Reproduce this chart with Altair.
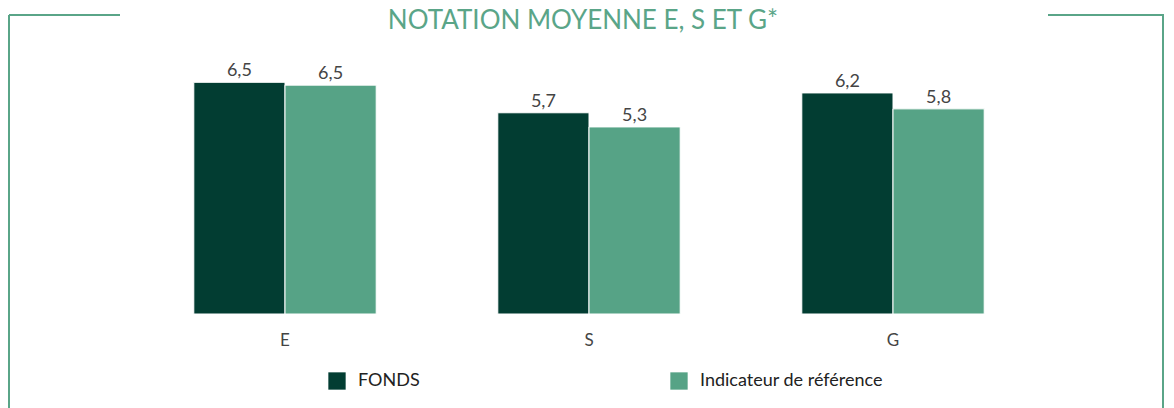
import altair as alt
import pandas as pd

categories = ["E", "S", "G"]
series = ["FONDS", "Indicateur de référence"]
fonds = [6.54, 5.68, 6.24]
reference = [6.46, 5.28, 5.79]

rows = []
for c, f, r in zip(categories, fonds, reference):
    rows.append({"pilier": c, "serie": series[0], "note": f})
    rows.append({"pilier": c, "serie": series[1], "note": r})
df = pd.DataFrame(rows)
df["label"] = df["note"].map(lambda v: f"{v:.1f}".replace(".", ","))

DARK = "#023d32"
LIGHT = "#56a386"
FRAME = "#5aa588"
FONT = "Lato"

W, H = 912, 248

x = alt.X("pilier:N", sort=categories,
          scale=alt.Scale(paddingInner=0.4, paddingOuter=0.2),
          axis=alt.Axis(title=None, labelAngle=0, domain=False, ticks=False,
                        labelFontSize=17, labelColor="#444", labelFont=FONT,
                        labelPadding=18))
y = alt.Y("note:Q", scale=alt.Scale(domain=[0, 7], nice=False), axis=None)
xo = alt.XOffset("serie:N", sort=series)

base = alt.Chart(df)
bars = base.mark_bar(stroke="white", strokeWidth=1).encode(
    x=x, y=y, xOffset=xo,
    color=alt.Color("serie:N", sort=series,
                    scale=alt.Scale(domain=series, range=[DARK, LIGHT]),
                    legend=alt.Legend(title=None, orient="none", direction="horizontal",
                                      legendX=195, legendY=306, columnPadding=250,
                                      symbolType="square", symbolSize=300,
                                      symbolStrokeWidth=0, labelOffset=12,
                                      labelFontSize=18, labelFont=FONT,
                                      labelColor="#222", labelLimit=0)),
)
labels = base.mark_text(baseline="alphabetic", dy=-6, fontSize=18, font=FONT,
                        color="#444").encode(
    x=x, y=y, xOffset=xo, text="label:N")

one = pd.DataFrame({"a": [0]})
def rule(x1, x2, y1, y2):
    return alt.Chart(one).mark_rule(color=FRAME, strokeWidth=2).encode(
        x=alt.value(x1), x2=alt.value(x2), y=alt.value(y1), y2=alt.value(y2))

frame = (rule(-124, -13, -51, -51) + rule(-124, -124, -51, 342)
         + rule(915, 1031, -51, -51) + rule(1030, 1030, -51, 342))

title = alt.Chart(one).mark_text(text="NOTATION MOYENNE E, S ET G*", fontSize=26,
                                 font=FONT, color=FRAME, baseline="alphabetic",
                                 align="center").encode(
    x=alt.value(450), y=alt.value(-37))

chart = alt.layer(bars, labels, frame, title).properties(
    width=W, height=H,
    autosize=alt.AutoSizeParams(type="none"),
    padding={"left": 125, "top": 58, "right": 121, "bottom": 94},
).configure_view(stroke=None)

chart.save("out.html", embed_options={"renderer": "svg", "actions": False})
